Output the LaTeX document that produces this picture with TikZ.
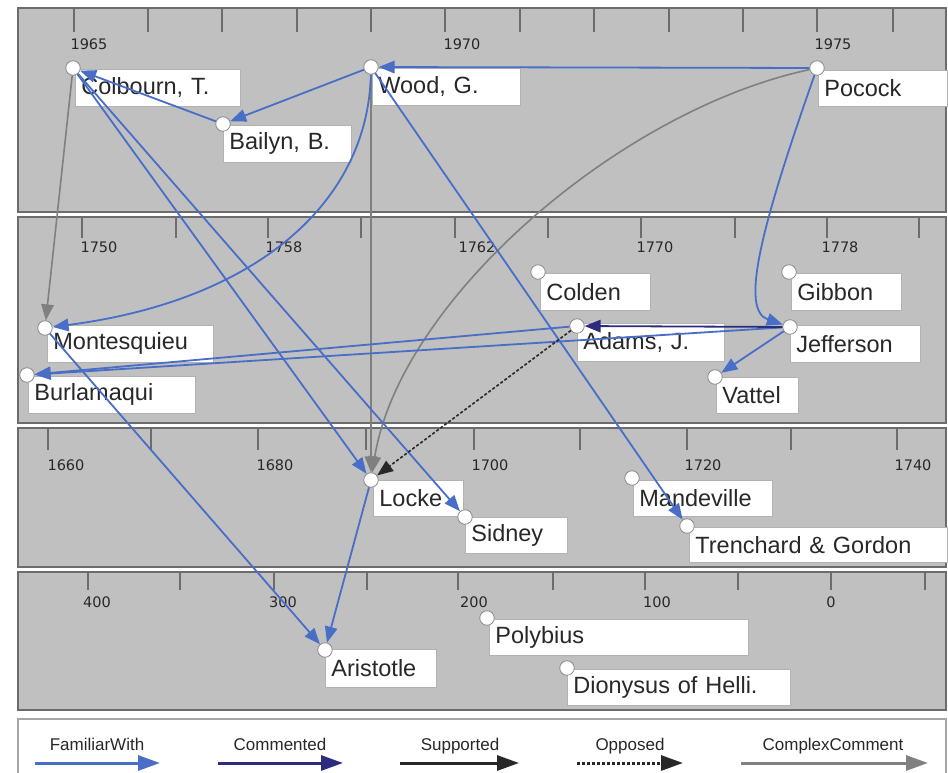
\documentclass[tikz,border=0pt]{standalone}
\usepackage{fontspec}
\setmainfont{Liberation Sans}
\newfontfamily\tickfont{DejaVu Sans}
\usetikzlibrary{arrows.meta}

\definecolor{famblue}{RGB}{72,110,200}
\definecolor{navyrel}{RGB}{44,44,125}
\definecolor{bandgray}{RGB}{192,192,192}
\definecolor{bandline}{RGB}{108,108,108}
\definecolor{ccgray}{RGB}{128,128,128}
\definecolor{inkgray}{RGB}{40,40,40}

% one person on the timeline: dot name, dot x, dot y, box x, box y, box width, box height, label
\newcommand\person[8]{%
  \node[namebox, minimum width=#6pt, minimum height=#7pt, text width=#6pt-12pt] (#1L) at (#4,#5) {#8};
  \node[dot] (#1) at (#2,#3) {};
}

\begin{document}
\begin{tikzpicture}[x=1pt,y=-1pt,
  band/.style={fill=bandgray, draw=bandline, line width=1.5pt},
  tickline/.style={draw=bandline, line width=1.2pt},
  ticklabel/.style={font=\tickfont\fontsize{14.5}{16}\selectfont, text=inkgray, inner sep=0pt},
  namebox/.style={draw=black!30, fill=white, line width=0.8pt, anchor=north west,
    inner xsep=6pt, inner ysep=0pt, align=left, text=inkgray,
    font=\fontsize{23.5}{26}\selectfont},
  dot/.style={circle, fill=white, draw=black!45, line width=0.8pt, minimum size=14.5pt, inner sep=0pt},
  reltip/.style={-{Triangle[length=16pt,width=12.5pt]}},
  relfam/.style={draw=famblue, line width=1.8pt, reltip},
  relcom/.style={draw=navyrel, line width=1.8pt, reltip},
  relsup/.style={draw=inkgray, line width=1.8pt, reltip},
  relopp/.style={draw=inkgray, line width=1.6pt, dash pattern=on 3pt off 2pt, reltip},
  relcc/.style={draw=ccgray, line width=1.6pt, reltip},
  legtip/.style={-{Triangle[length=22pt,width=15pt]}},
  legtext/.style={font=\fontsize{17}{19}\selectfont, text=inkgray, inner sep=0pt, anchor=base},
]
\useasboundingbox (0,0) rectangle (948,773);

% ---- time bands ----
\draw[band] (18,8) rectangle (946,212);
\draw[band] (18,217) rectangle (946,423);
\draw[band] (18,428) rectangle (946,567);
\draw[band] (18,572) rectangle (946,710);

\foreach \x in {74,148,222,297,371,445,520,594,669,743,817,893}
  \draw[tickline] (\x,8) -- (\x,32);
\foreach \x in {82,176,268,361,455,548,641,735,827,919}
  \draw[tickline] (\x,217) -- (\x,238);
\foreach \x in {48,151,258,366,474,580,687,791,897}
  \draw[tickline] (\x,428) -- (\x,450);
\foreach \x in {88,180,274,367,458,553,645,738,831,925}
  \draw[tickline] (\x,572) -- (\x,590);

\node[ticklabel] (y1965) at (89,44) {1965};
\node[ticklabel] (y1970) at (462,44) {1970};
\node[ticklabel] (y1975) at (833,44) {1975};
\node[ticklabel] (y1750) at (99,247) {1750};
\node[ticklabel] (y1758) at (284,247) {1758};
\node[ticklabel] (y1762) at (477,247) {1762};
\node[ticklabel] (y1770) at (655,247) {1770};
\node[ticklabel] (y1778) at (840,247) {1778};
\node[ticklabel] (y1660) at (66,465) {1660};
\node[ticklabel] (y1680) at (275,465) {1680};
\node[ticklabel] (y1700) at (490,465) {1700};
\node[ticklabel] (y1720) at (703,465) {1720};
\node[ticklabel] (y1740) at (913,465) {1740};
\node[ticklabel] (b400) at (97,602) {400};
\node[ticklabel] (b300) at (283,602) {300};
\node[ticklabel] (b200) at (474,602) {200};
\node[ticklabel] (b100) at (657,602) {100};
\node[ticklabel] (b0) at (831,602) {0};

% ---- people ----
\person{colbourn}{73}{68}{75}{69}{165}{37}{Colbourn, T.}
\person{bailyn}{223}{124}{223}{125}{128}{37}{Bailyn, B.}
\person{wood}{371}{67}{372}{68}{148}{37}{Wood, G.}
\person{pocock}{817}{68}{818}{70}{129}{36}{Pocock}
\person{montesquieu}{45}{328}{47}{325}{166}{37}{Montesquieu}
\person{burlamaqui}{27}{375}{28}{376}{167}{37}{Burlamaqui}
\person{colden}{538}{272}{540}{273}{110}{37}{Colden}
\person{adams}{577}{326}{577}{323}{147}{38}{Adams, J.}
\person{gibbon}{789}{272}{791}{273}{110}{37}{Gibbon}
\person{jefferson}{790}{327}{790}{325}{130}{37}{Jefferson}
\person{vattel}{715}{377}{716}{377}{82}{36}{Vattel}
\person{locke}{371}{480}{373}{480}{90}{36}{Locke}
\person{sidney}{465}{517}{465}{517}{102}{36}{Sidney}
\person{mandeville}{632}{478}{633}{480}{139}{36}{Mandeville}
\person{trenchard}{687}{526}{689}{527}{258}{35}{Trenchard \& Gordon}
\person{aristotle}{325}{650}{325}{649}{111}{38}{Aristotle}
\person{polybius}{487}{618}{489}{619}{259}{36}{Polybius}
\person{dionysus}{567}{668}{567}{669}{223}{36}{Dionysus of Helli.}

% ---- relations ----
\draw[relcc] (colbourn) -- (montesquieu);
\draw[relcc] (wood) -- (locke);
\draw[relcc] (pocock) .. controls (620,110) and (400,300) .. (locke);
\draw[relfam] (pocock) -- (wood);
\draw[relfam] (wood) -- (bailyn);
\draw[relfam] (bailyn) -- (colbourn);
\draw[relfam] (wood) .. controls (368,200) and (260,300) .. (montesquieu);
\draw[relfam] (pocock) .. controls (760,230) and (740,310) .. (jefferson);
\draw[relfam] (wood) -- (trenchard);
\draw[relfam] (colbourn) -- (locke);
\draw[relfam] (colbourn) -- (sidney);
\draw[relfam] (montesquieu) -- (aristotle);
\draw[relfam] (locke) -- (aristotle);
\draw[relfam] (jefferson) -- (burlamaqui);
\draw[relfam] (adams) -- (burlamaqui);
\draw[relfam] (jefferson) -- (vattel);
\draw[relcom] (jefferson) -- (adams);
\draw[relopp] (adams) -- (locke);

% ---- legend ----
\draw[draw=black!35, fill=white, line width=1.2pt] (18,790) -- (18,719) -- (946,719) -- (946,790);
\node[legtext] (legfam) at (97,750) {FamiliarWith};
\node[legtext] (legcom) at (280,750) {Commented};
\node[legtext] (legsup) at (460,750) {Supported};
\node[legtext] (legopp) at (630,750) {Opposed};
\node[legtext] (legcc) at (833,750) {ComplexComment};
\coordinate (famA) at (35,763);  \coordinate (famB) at (160,763);
\coordinate (comA) at (218,763); \coordinate (comB) at (343,763);
\coordinate (supA) at (400,763); \coordinate (supB) at (519,763);
\coordinate (oppA) at (577,763); \coordinate (oppB) at (683,763);
\coordinate (ccA) at (741,763);  \coordinate (ccB) at (928,763);
\draw[draw=famblue, line width=3pt, legtip] (famA) -- (famB);
\draw[draw=navyrel, line width=3pt, legtip] (comA) -- (comB);
\draw[draw=inkgray, line width=3pt, legtip] (supA) -- (supB);
\draw[draw=inkgray, line width=3pt, dash pattern=on 3pt off 2pt, legtip] (oppA) -- (oppB);
\draw[draw=ccgray, line width=3pt, legtip] (ccA) -- (ccB);
\end{tikzpicture}
\end{document}
